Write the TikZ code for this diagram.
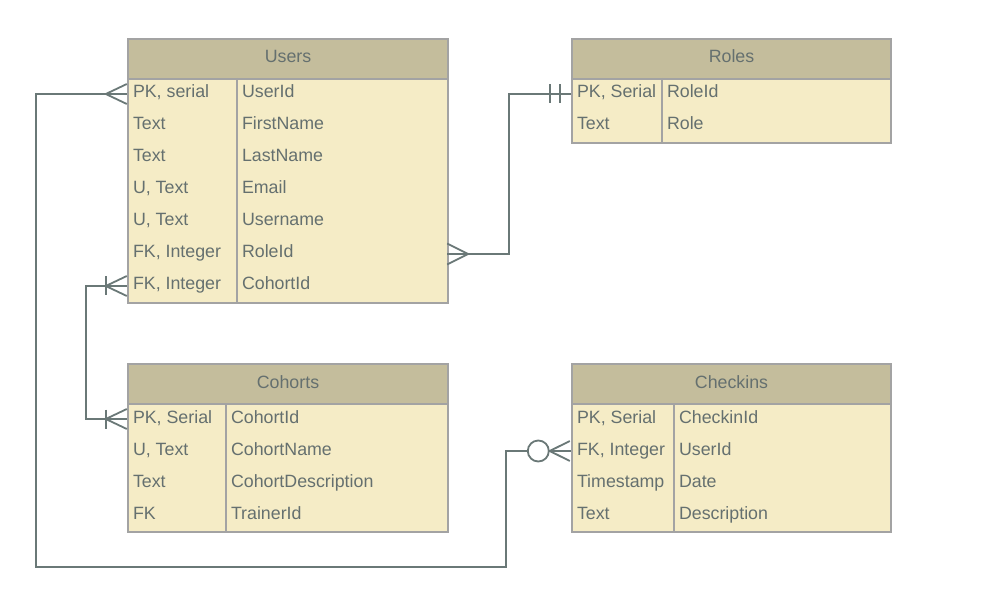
\documentclass[tikz,border=0pt]{standalone}
\usepackage{fontspec}
\setmainfont{Liberation Sans}
\usetikzlibrary{calc}
\definecolor{hdr}{HTML}{C4BD9C}
\definecolor{bodyc}{HTML}{F5ECC6}
\definecolor{bord}{HTML}{A3A3A3}
\definecolor{txt}{HTML}{65706F}
\definecolor{connc}{HTML}{6A7877}
\begin{document}
\begin{tikzpicture}[x=1pt,y=-1pt,
  hdrbox/.style={draw=bord, line width=2pt, fill=hdr, anchor=north west, inner sep=0pt, minimum height=40pt},
  bodybox/.style={draw=bord, line width=2pt, fill=bodyc, anchor=north west, inner sep=0pt},
  divider/.style={draw=bord, line width=2pt},
  rowbox/.style={inner sep=0pt, minimum height=32pt},
  celltext/.style={anchor=base west, inner sep=0pt, text=txt, font=\fontsize{17.8}{20}\selectfont},
  hdrtext/.style={anchor=base, inner sep=0pt, text=txt, font=\fontsize{17.8}{20}\selectfont},
  cn/.style={draw=connc, line width=1.8pt}
]
\fill[white] (0,0) rectangle (998,609);
\useasboundingbox (0,0) rectangle (998,609);

% ---------- Users ----------
\node[hdrbox, minimum width=320pt] (usersH) at (127,38) {};
\node[bodybox, minimum width=320pt, minimum height=224pt] (usersT) at (127,78) {};
\node[hdrtext] (usersL) at ($(usersH.center)+(0,4)$) {Users};
\draw[divider] ($(usersT.north west)+(110,0)$) -- ($(usersT.south west)+(110,0)$);
\foreach \i/\a/\b in {1/{PK, serial}/UserId, 2/Text/FirstName, 3/Text/LastName, 4/{U, Text}/Email, 5/{U, Text}/Username, 6/{FK, Integer}/RoleId, 7/{FK, Integer}/CohortId}{
  \node[rowbox, minimum width=320pt] (urow\i) at (287,{62+32*\i}) {};
  \node[celltext] (ua\i) at ($(urow\i.west)+(6,4)$) {\a};
  \node[celltext] (ub\i) at ($(urow\i.west)+(115,4)$) {\b};
}

% ---------- Roles ----------
\node[hdrbox, minimum width=319pt] (rolesH) at (571,38) {};
\node[bodybox, minimum width=319pt, minimum height=64pt] (rolesT) at (571,78) {};
\node[hdrtext] (rolesL) at ($(rolesH.center)+(0,4)$) {Roles};
\draw[divider] ($(rolesT.north west)+(91,0)$) -- ($(rolesT.south west)+(91,0)$);
\foreach \i/\a/\b in {1/{PK, Serial}/RoleId, 2/Text/Role}{
  \node[rowbox, minimum width=319pt] (rrow\i) at (730.5,{62+32*\i}) {};
  \node[celltext] (ra\i) at ($(rrow\i.west)+(6,4)$) {\a};
  \node[celltext] (rb\i) at ($(rrow\i.west)+(96,4)$) {\b};
}

% ---------- Cohorts ----------
\node[hdrbox, minimum width=320pt] (cohH) at (127,363) {};
\node[bodybox, minimum width=320pt, minimum height=128pt] (cohT) at (127,403) {};
\node[hdrtext] (cohL) at ($(cohH.center)+(0,4)$) {Cohorts};
\draw[divider] ($(cohT.north west)+(99,0)$) -- ($(cohT.south west)+(99,0)$);
\foreach \i/\a/\b in {1/{PK, Serial}/CohortId, 2/{U, Text}/CohortName, 3/Text/CohortDescription, 4/FK/TrainerId}{
  \node[rowbox, minimum width=320pt] (crow\i) at (287,{387+32*\i}) {};
  \node[celltext] (ca\i) at ($(crow\i.west)+(6,4)$) {\a};
  \node[celltext] (cb\i) at ($(crow\i.west)+(104,4)$) {\b};
}

% ---------- Checkins ----------
\node[hdrbox, minimum width=319pt] (chkH) at (571,363) {};
\node[bodybox, minimum width=319pt, minimum height=128pt] (chkT) at (571,403) {};
\node[hdrtext] (chkL) at ($(chkH.center)+(0,4)$) {Checkins};
\draw[divider] ($(chkT.north west)+(103,0)$) -- ($(chkT.south west)+(103,0)$);
\foreach \i/\a/\b in {1/{PK, Serial}/CheckinId, 2/{FK, Integer}/UserId, 3/Timestamp/Date, 4/Text/Description}{
  \node[rowbox, minimum width=319pt] (krow\i) at (730.5,{387+32*\i}) {};
  \node[celltext] (ka\i) at ($(krow\i.west)+(6,4)$) {\a};
  \node[celltext] (kb\i) at ($(krow\i.west)+(108,4)$) {\b};
}

% ---------- Connectors ----------
% Users.UserId  (many)  -- Checkins.UserId (zero or many)
\coordinate (k1) at (36,567);
\coordinate (k2) at (506,567);
\node[draw=connc, line width=1.8pt, circle, minimum size=21pt, inner sep=0pt] (zc) at ($(krow2.west)+(-32.5,0)$) {};
\draw[cn] (urow1.west) -| (k1) -- (k2) |- (zc.west);
\draw[cn] ($(urow1.west)+(0,-10)$) -- ($(urow1.west)+(-21,0)$) -- ($(urow1.west)+(0,10)$);
\draw[cn] (zc.east) -- (krow2.west);
\draw[cn] ($(krow2.west)+(-1,-10)$) -- (zc.east) -- ($(krow2.west)+(-1,10)$);

% Users.RoleId (many) -- Roles.RoleId (one and only one)
\coordinate (k3) at (509,94);
\draw[cn] (urow6.east) -| (k3) -- (rrow1.west);
\draw[cn] ($(urow6.east)+(0,-10.5)$) -- ($(urow6.east)+(21,0)$) -- ($(urow6.east)+(0,10.5)$);
\draw[cn] ($(rrow1.west)+(-21,-9.5)$) -- ($(rrow1.west)+(-21,9.5)$);
\draw[cn] ($(rrow1.west)+(-11,-9.5)$) -- ($(rrow1.west)+(-11,9.5)$);

% Users.CohortId (one or many) -- Cohorts.CohortId (one or many)
\coordinate (k4) at (86,350);
\draw[cn] (urow7.west) -| (k4) |- (crow1.west);
\draw[cn] ($(urow7.west)+(0,-10)$) -- ($(urow7.west)+(-21,0)$) -- ($(urow7.west)+(0,10)$);
\draw[cn] ($(urow7.west)+(-21,-9.5)$) -- ($(urow7.west)+(-21,9.5)$);
\draw[cn] ($(crow1.west)+(0,-10)$) -- ($(crow1.west)+(-21,0)$) -- ($(crow1.west)+(0,10)$);
\draw[cn] ($(crow1.west)+(-21,-9.5)$) -- ($(crow1.west)+(-21,9.5)$);
\end{tikzpicture}
\end{document}
